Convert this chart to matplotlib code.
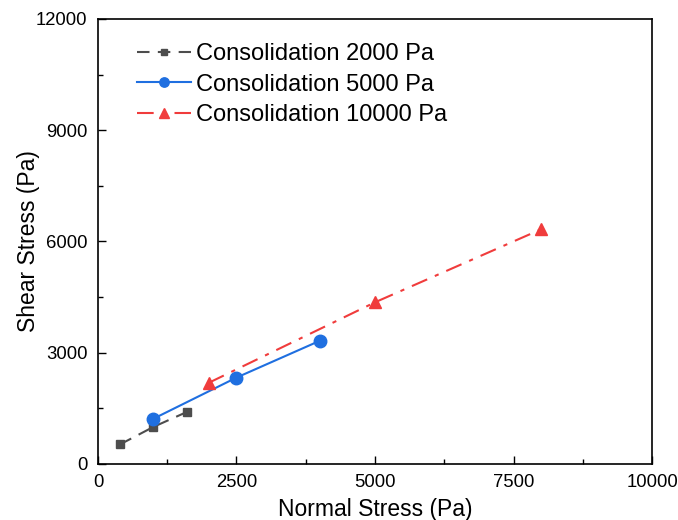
import matplotlib
matplotlib.use("Agg")
import matplotlib.pyplot as plt
from matplotlib.ticker import MultipleLocator

plt.rcParams['font.family'] = ['Liberation Sans', 'DejaVu Sans']

x_2000 = [400, 1000, 1600]
y_2000 = [530, 1000, 1400]
x_5000 = [1000, 2500, 4000]
y_5000 = [1220, 2330, 3320]
x_10000 = [2000, 5000, 8000]
y_10000 = [2190, 4360, 6330]
labels = ["Consolidation 2000 Pa", "Consolidation 5000 Pa", "Consolidation 10000 Pa"]

fig = plt.figure(figsize=(6.78, 5.2), dpi=100)
ax = fig.add_axes([0.1445, 0.1077, 0.8172, 0.8558])

ax.plot(x_2000, y_2000, linestyle=(0, (6, 4)), color='#4d4d4d', marker='s', markersize=6, lw=1.5, label=labels[0])
ax.plot(x_5000, y_5000, linestyle='-', color='#1f6fe0', marker='o', markersize=9, lw=1.5, label=labels[1])
ax.plot(x_10000, y_10000, linestyle=(0, (8, 4, 2, 4)), color='#f03c3c', marker='^', markersize=9, lw=1.5, label=labels[2])

ax.set_xlim(0, 10000)
ax.set_ylim(0, 12000)
ax.xaxis.set_major_locator(MultipleLocator(2500))
ax.xaxis.set_minor_locator(MultipleLocator(1250))
ax.yaxis.set_major_locator(MultipleLocator(3000))
ax.yaxis.set_minor_locator(MultipleLocator(1500))
ax.tick_params(which='both', direction='in', top=False, right=False, labelsize=13.3, pad=7.5)
ax.tick_params(which='major', length=6, width=1)
ax.tick_params(which='minor', length=3.5, width=1)
for s in ax.spines.values():
    s.set_linewidth(1.2)

ax.set_xlabel("Normal Stress (Pa)", fontsize=16.5, labelpad=4.5)
ax.set_ylabel("Shear Stress (Pa)", fontsize=16.5, labelpad=-3)

ax.legend(loc='upper left', frameon=False, fontsize=17, handlelength=2.3,
          handletextpad=0.2, labelspacing=0.36, markerscale=0.75,
          bbox_to_anchor=(0.04, 0.983), borderaxespad=0.3)

fig.savefig("out.png", dpi=100)
